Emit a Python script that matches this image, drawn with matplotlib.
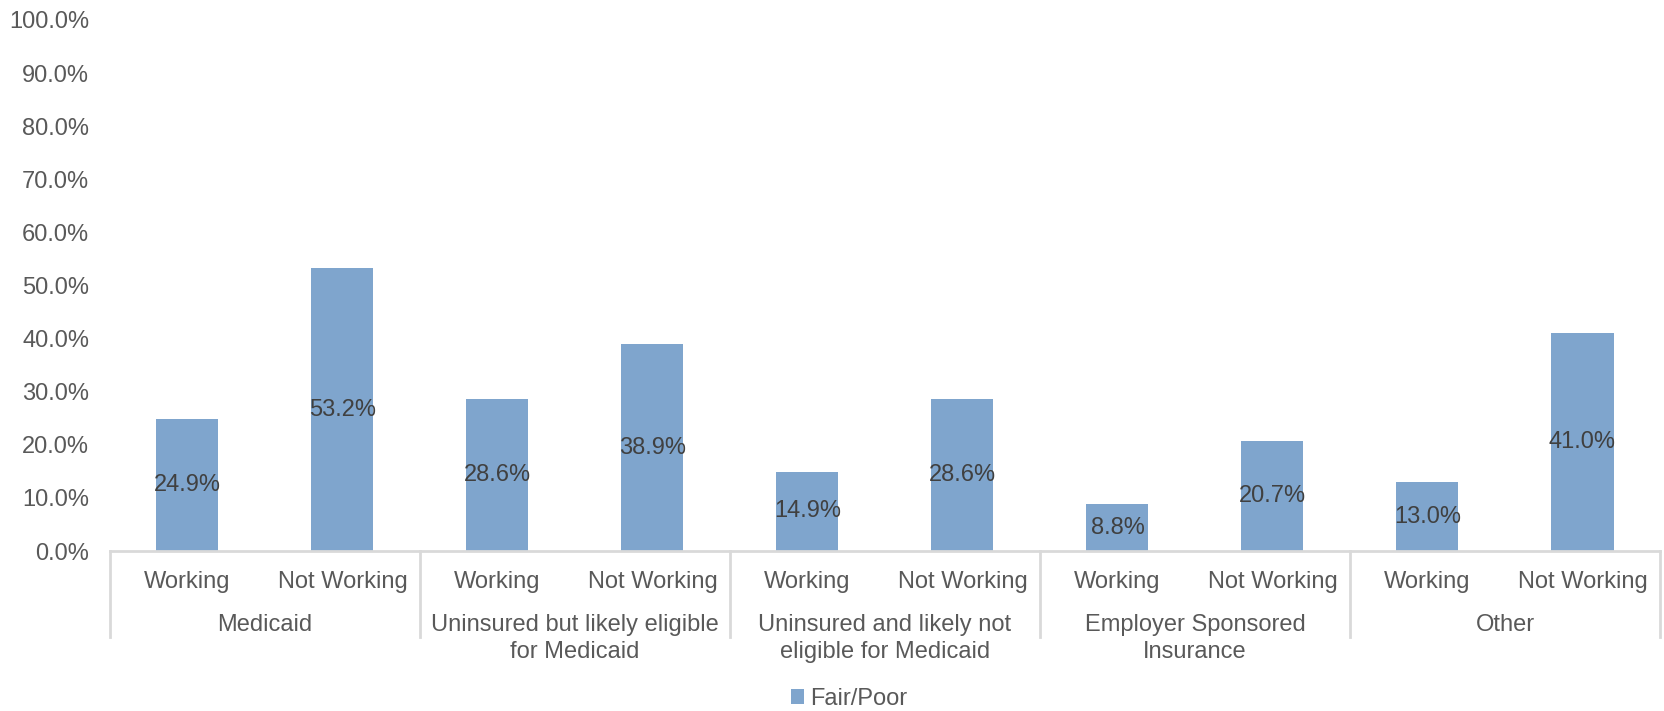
import numpy as np
from matplotlib import pyplot as plt
from matplotlib.transforms import blended_transform_factory
from matplotlib.patches import Patch

plt.rcParams['font.family'] = ['Liberation Sans', 'DejaVu Sans']

groups = ["Medicaid", "Uninsured but likely eligible\nfor Medicaid",
          "Uninsured and likely not\neligible for Medicaid",
          "Employer Sponsored\nInsurance", "Other"]
statuses = ["Working", "Not Working"]
fair_poor = [24.9, 53.2, 28.6, 38.9, 14.9, 28.6, 8.8, 20.7, 13.0, 41.0]
y_ticks = [0, 10, 20, 30, 40, 50, 60, 70, 80, 90, 100]

bar_color = "#7FA5CD"
text_color = "#595959"
line_color = "#D9D9D9"
fs = 17

fig = plt.figure(figsize=(16.65, 7.11), dpi=100)
ax = fig.add_axes([0.066, 0.225, 0.931, 0.747])

x = np.arange(len(fair_poor))
bars = ax.bar(x, fair_poor, width=0.4, color=bar_color, zorder=2)

# value labels sit in the middle of each bar
for xi, v in zip(x, fair_poor):
    ax.text(xi, v / 2, "%.1f%%" % v, ha="center", va="center",
            fontsize=fs, color="#404040", zorder=3)

ax.set_xlim(-0.5, len(fair_poor) - 0.5)
ax.set_ylim(0, 100)
ax.set_yticks(y_ticks)
ax.set_yticklabels(["%.1f%%" % t for t in y_ticks], fontsize=fs, color=text_color)
ax.tick_params(axis="y", length=0, pad=15)
ax.set_xticks([])

for s in ["top", "right", "left"]:
    ax.spines[s].set_visible(False)
ax.spines["bottom"].set_color(line_color)
ax.spines["bottom"].set_linewidth(2)

# two-level category axis
tr = blended_transform_factory(ax.transData, ax.transAxes)
for i in range(len(groups) + 1):
    bx = 2 * i - 0.5
    ax.plot([bx, bx], [0, -0.162], transform=tr, color=line_color,
            lw=2, clip_on=False)
for i, g in enumerate(groups):
    for j, st in enumerate(statuses):
        ax.text(2 * i + j, -0.058, st, transform=tr, ha="center", va="center",
                fontsize=fs, color=text_color)
    ax.text(2 * i + 0.5, -0.118, g, transform=tr, ha="center", va="top",
            fontsize=fs, color=text_color, linespacing=1.3)

handle = Patch(facecolor=bar_color, edgecolor="none")
fig.legend([handle], ["Fair/Poor"], loc="center", bbox_to_anchor=(0.51, 0.017),
           frameon=False, fontsize=fs, handlelength=0.55, handleheight=0.55,
           handletextpad=0.3, labelcolor=text_color)

fig.savefig("out.png", dpi=100)
